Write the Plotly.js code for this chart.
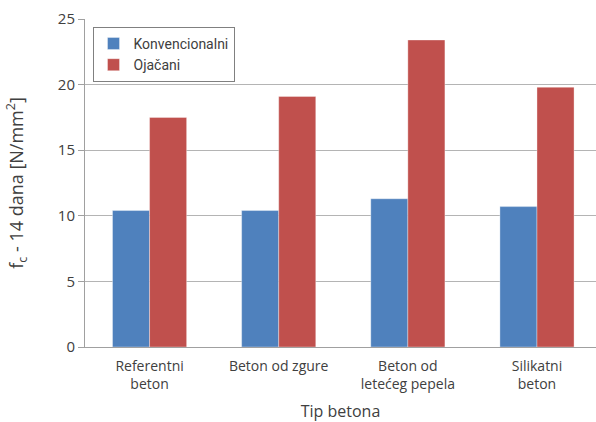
<!DOCTYPE html>
<html>
<head>
<meta charset="utf-8">
<script src="https://cdn.plot.ly/plotly-3.0.1.min.js"></script>
<style>html,body{margin:0;padding:0;background:#fff;overflow:hidden}</style>
</head>
<body>
<div id="chart" style="width:596px;height:422px"></div>
<script>
const categories = ["Referentni<br>beton", "Beton od zgure", "Beton od<br>letećeg pepela", "Silikatni<br>beton"];
const konvencionalni = [10.4, 10.4, 11.3, 10.7];
const ojacani = [17.5, 19.1, 23.4, 19.8];
const yTicks = [0, 5, 10, 15, 20, 25];

const font = "Open Sans, Noto Sans, sans-serif";
const data = [
  {type: "bar", name: "Konvencionalni", x: categories, y: konvencionalni,
   marker: {color: "#4F81BD", line: {color: "rgba(255,255,255,0.35)", width: 1}}},
  {type: "bar", name: "Ojačani", x: categories, y: ojacani,
   marker: {color: "#C0504D", line: {color: "rgba(255,255,255,0.35)", width: 1}}}
];
const layout = {
  width: 596, height: 422,
  margin: {l: 85, r: 0, t: 19, b: 75, pad: 0},
  paper_bgcolor: "#fff", plot_bgcolor: "#fff",
  barmode: "group", bargap: 0.426, bargroupgap: 0,
  font: {family: font, color: "#404040", size: 14},
  showlegend: true,
  legend: {x: 0.0147, y: 0.976, xanchor: "left", yanchor: "top",
           bgcolor: "#fff", bordercolor: "#808080", borderwidth: 1,
           font: {family: "Roboto, sans-serif", size: 14, color: "#404040"},
           tracegroupgap: 0, itemwidth: 30},
  xaxis: {
    type: "category", range: [-0.5, 3.457],
    showgrid: false, showline: true, linecolor: "#a0a0a0", linewidth: 1,
    ticks: "outside", ticklen: 6, tickcolor: "rgba(0,0,0,0)",
    tickfont: {size: 14, color: "#404040"},
    title: {text: "Tip betona", font: {size: 16, color: "#404040"}, standoff: 14}
  },
  yaxis: {
    range: [0, 25], tickvals: yTicks, ticktext: yTicks.map(String),
    showgrid: true, gridcolor: "#b4b4b4", gridwidth: 1,
    showline: true, linecolor: "#a0a0a0", linewidth: 1,
    ticks: "outside", ticklen: 6, tickcolor: "#a0a0a0",
    tickfont: {size: 15, color: "#404040"}, zeroline: false,
    title: {text: "f<sub>c</sub> - 14 dana [N/mm<sup>2</sup>]", font: {size: 18, color: "#404040"}, standoff: 29}
  }
};
Plotly.newPlot("chart", data, layout, {staticPlot: true, displayModeBar: false});
</script>
</body>
</html>
